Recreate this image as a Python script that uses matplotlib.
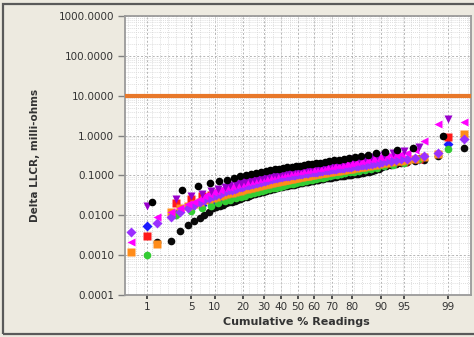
"""Probability plot of Delta LLCR readings (log y) against cumulative % readings."""
from statistics import NormalDist

import numpy as np
import matplotlib
matplotlib.use("Agg")
import matplotlib.pyplot as plt
from matplotlib.patches import Rectangle
from matplotlib.ticker import FixedLocator, FuncFormatter, NullFormatter

# ---------------------------------------------------------------- data
# Sorted Delta LLCR readings (milli-ohms) per group.
# A reading of 0 cannot be shown on the log axis.
black_upper = [
    0.021, 0.042, 0.053, 0.063, 0.071, 0.079, 0.087, 0.094, 0.102, 0.110,
    0.116, 0.123, 0.129, 0.135, 0.141, 0.147, 0.153, 0.159, 0.165, 0.171,
    0.177, 0.183, 0.189, 0.196, 0.203, 0.211, 0.220, 0.229, 0.239, 0.250,
    0.263, 0.277, 0.293, 0.310, 0.330, 0.355, 0.385, 0.430, 0.500, 0.950,
]
black_lower = [
    0.0, 0.0021, 0.0022, 0.0040, 0.0056, 0.0071, 0.0087, 0.0102, 0.0118, 0.0150,
    0.0162, 0.0174, 0.0186, 0.0198, 0.0210, 0.0221, 0.0233, 0.0245, 0.0257, 0.0270,
    0.0283, 0.0296, 0.0309, 0.0323, 0.0335, 0.0347, 0.0358, 0.0370, 0.0382, 0.0394,
    0.0406, 0.0418, 0.0430, 0.0442, 0.0454, 0.0466, 0.0478, 0.0490, 0.0502, 0.0510,
    0.0520, 0.0530, 0.0540, 0.0550, 0.0560, 0.0570, 0.0580, 0.0592, 0.0604, 0.0616,
    0.0628, 0.0640, 0.0652, 0.0665, 0.0678, 0.0691, 0.0704, 0.0717, 0.0730, 0.0744,
    0.0758, 0.0772, 0.0786, 0.0800, 0.0814, 0.0828, 0.0842, 0.0856, 0.0870, 0.0885,
    0.0900, 0.0915, 0.0930, 0.0946, 0.0962, 0.0978, 0.0995, 0.1012, 0.103, 0.105,
    0.107, 0.109, 0.111, 0.114, 0.117, 0.120, 0.123, 0.127, 0.140, 0.145,
    0.160, 0.170, 0.180, 0.190, 0.200, 0.215, 0.230, 0.250, 0.300, 0.500,
]
magenta = [
    0.0021, 0.0090, 0.0120, 0.0150, 0.019, 0.022, 0.026, 0.030, 0.034, 0.038,
    0.041, 0.044, 0.047, 0.050, 0.052, 0.055, 0.057, 0.060, 0.062, 0.065,
    0.067, 0.069, 0.0715, 0.0731, 0.0753, 0.0776, 0.0797, 0.0819, 0.0841, 0.0865,
    0.0887, 0.0910, 0.0933, 0.0959, 0.0982, 0.1007, 0.1033, 0.1057, 0.1084, 0.1096,
    0.1114, 0.1132, 0.1151, 0.1170, 0.1189, 0.1208, 0.1227, 0.1247, 0.1268, 0.1288,
    0.1309, 0.1327, 0.1349, 0.1368, 0.1387, 0.1406, 0.1429, 0.1449, 0.1469, 0.1489,
    0.1514, 0.1535, 0.1556, 0.1578, 0.1603, 0.1626, 0.1652, 0.1675, 0.1702, 0.1730,
    0.1758, 0.1786, 0.1816, 0.1845, 0.1875, 0.1910, 0.1941, 0.1977, 0.2023, 0.2075,
    0.2128, 0.2183, 0.2244, 0.2312, 0.2377, 0.2455, 0.2535, 0.2630, 0.2723, 0.2831,
    0.2938, 0.3055, 0.3184, 0.3327, 0.3499, 0.3758, 0.4266, 0.750, 2.000, 2.200,
]
violet = [
    0.017, 0.025, 0.030, 0.035, 0.041, 0.046, 0.051, 0.056, 0.061, 0.066,
    0.071, 0.076, 0.081, 0.086, 0.091, 0.096, 0.101, 0.106, 0.111, 0.116,
    0.121, 0.126, 0.131, 0.136, 0.141, 0.146, 0.151, 0.156, 0.161, 0.166,
    0.171, 0.177, 0.183, 0.190, 0.197, 0.204, 0.212, 0.221, 0.230, 0.240,
    0.251, 0.263, 0.277, 0.293, 0.312, 0.335, 0.365, 0.410, 0.520, 2.600,
]
purple = [
    0.0037, 0.0065, 0.0090, 0.0120, 0.0150, 0.0180, 0.0210, 0.0240, 0.0270, 0.0300,
    0.0325, 0.0350, 0.0375, 0.0400, 0.0420, 0.0440, 0.0460, 0.0480, 0.0500, 0.0520,
    0.0540, 0.0560, 0.0580, 0.0600, 0.0620, 0.0640, 0.0660, 0.0680, 0.0700, 0.0720,
    0.0740, 0.0760, 0.0780, 0.0800, 0.0820, 0.0840, 0.0860, 0.0880, 0.0900, 0.0915,
    0.0930, 0.0945, 0.0960, 0.0975, 0.0990, 0.1005, 0.1020, 0.1035, 0.1050, 0.1065,
    0.1080, 0.1095, 0.1110, 0.1125, 0.1140, 0.1155, 0.1170, 0.1185, 0.1200, 0.1215,
    0.1230, 0.1250, 0.1270, 0.1290, 0.1310, 0.1330, 0.1350, 0.1370, 0.1390, 0.1410,
    0.1430, 0.1450, 0.1475, 0.1500, 0.1525, 0.1550, 0.1575, 0.1600, 0.1630, 0.1660,
    0.1690, 0.1720, 0.1760, 0.1800, 0.1840, 0.1880, 0.1930, 0.1980, 0.2040, 0.2100,
    0.2170, 0.2240, 0.2320, 0.2410, 0.2510, 0.2630, 0.2800, 0.3050, 0.3600, 0.8000,
]
orange = [
    0.0012, 0.0019, 0.0120, 0.0150, 0.0175, 0.0195, 0.0215, 0.0235, 0.0255, 0.0275,
    0.0295, 0.0310, 0.0325, 0.0340, 0.0355, 0.0370, 0.0385, 0.0400, 0.0415, 0.0430,
    0.0445, 0.0460, 0.0475, 0.0490, 0.0505, 0.0520, 0.0535, 0.0550, 0.0565, 0.0580,
    0.0595, 0.0610, 0.0625, 0.0640, 0.0655, 0.0670, 0.0685, 0.0700, 0.0715, 0.0730,
    0.0745, 0.0760, 0.0775, 0.0790, 0.0805, 0.0820, 0.0835, 0.0850, 0.0865, 0.0880,
    0.0895, 0.0910, 0.0925, 0.0940, 0.0955, 0.0970, 0.0985, 0.1000, 0.1020, 0.1040,
    0.1060, 0.1080, 0.1100, 0.1120, 0.1140, 0.1160, 0.1180, 0.1200, 0.1220, 0.1240,
    0.1260, 0.1280, 0.1300, 0.1325, 0.1350, 0.1375, 0.1400, 0.1430, 0.1460, 0.1490,
    0.1520, 0.1550, 0.1590, 0.1630, 0.1670, 0.1710, 0.1760, 0.1810, 0.1870, 0.1930,
    0.2000, 0.2080, 0.2160, 0.2250, 0.2350, 0.2470, 0.2650, 0.2900, 0.3500, 1.1000,
]
red = [
    0.0030, 0.0200, 0.0260, 0.0300, 0.0330, 0.0360, 0.0385, 0.0410, 0.0435, 0.0460,
    0.0485, 0.0510, 0.0535, 0.0560, 0.0585, 0.0610, 0.0635, 0.0660, 0.0685, 0.0710,
    0.0740, 0.0770, 0.0800, 0.0830, 0.0860, 0.0890, 0.0920, 0.0950, 0.0980, 0.1010,
    0.1045, 0.1080, 0.1115, 0.1150, 0.1190, 0.1230, 0.1270, 0.1320, 0.1370, 0.1420,
    0.1480, 0.1540, 0.1610, 0.1690, 0.1780, 0.1890, 0.2020, 0.2200, 0.2550, 0.9000,
]
blue = [
    0.0053, 0.0110, 0.0150, 0.0180, 0.0210, 0.0235, 0.0260, 0.0285, 0.0310, 0.0335,
    0.0360, 0.0385, 0.0410, 0.0435, 0.0460, 0.0485, 0.0510, 0.0535, 0.0560, 0.0585,
    0.0610, 0.0640, 0.0670, 0.0700, 0.0730, 0.0760, 0.0790, 0.0820, 0.0850, 0.0880,
    0.0910, 0.0945, 0.0980, 0.1015, 0.1050, 0.1090, 0.1130, 0.1170, 0.1220, 0.1270,
    0.1330, 0.1390, 0.1460, 0.1540, 0.1700, 0.1800, 0.2000, 0.2200, 0.2600, 0.6300,
]
green = [
    0.0010, 0.0100, 0.0125, 0.0150, 0.0175, 0.0200, 0.0222, 0.0245, 0.0268, 0.0290,
    0.0312, 0.0335, 0.0358, 0.0380, 0.0402, 0.0425, 0.0448, 0.0470, 0.0495, 0.0520,
    0.0545, 0.0570, 0.0595, 0.0620, 0.0645, 0.0670, 0.0700, 0.0730, 0.0760, 0.0790,
    0.0820, 0.0850, 0.0885, 0.0920, 0.0960, 0.1000, 0.1040, 0.1090, 0.1140, 0.1190,
    0.1250, 0.1310, 0.1380, 0.1460, 0.1560, 0.1680, 0.1850, 0.2100, 0.2600, 0.4500,
]

LIMIT = 10.0  # milli-ohm limit line
Y_TICKS = [0.0001, 0.001, 0.01, 0.1, 1.0, 10.0, 100.0, 1000.0]
X_TICKS = [1, 5, 10, 20, 30, 40, 50, 60, 70, 80, 90, 95, 99]

# (values, colour, marker), drawn in this order
SERIES = [
    (black_lower, "#0a0a0a", "o"),
    (blue, "#1a1aff", "D"),
    (red, "#ff1a1a", "s"),
    (green, "#33cc33", "o"),
    (orange, "#ff8c1a", "s"),
    (purple, "#9b30ff", "D"),
    (magenta, "#ff00ff", "<"),
    (violet, "#9900cc", "v"),
    (black_upper, "#000000", "o"),
]

# ---------------------------------------------------------------- scale
_ND = NormalDist()
_ppf = np.vectorize(_ND.inv_cdf, otypes=[float])
_cdf = np.vectorize(_ND.cdf, otypes=[float])


def prob_forward(p):
    q = np.clip(np.asarray(p, dtype=float) / 100.0, 1e-9, 1 - 1e-9)
    return _ppf(q)


def prob_inverse(z):
    return _cdf(np.asarray(z, dtype=float)) * 100.0


def plotting_positions(n):
    """Hazen positions, in percent."""
    return (np.arange(n) + 0.5) / n * 100.0


# ---------------------------------------------------------------- figure
W, H = 474, 337
fig = plt.figure(figsize=(W / 100, H / 100), dpi=100)
fig.patch.set_facecolor("#edeae0")
fig.patches.append(Rectangle((3 / W, 3 / H), 1.0, (H - 7) / H, transform=fig.transFigure,
                             fill=False, edgecolor="#5a5a5a", linewidth=1.6))

ax = fig.add_axes([125 / W, 1 - 295 / H, (471 - 125) / W, (295 - 16) / H])
ax.set_facecolor("white")
ax.set_xscale("function", functions=(prob_forward, prob_inverse))
ax.set_yscale("log", nonpositive="mask")
ax.set_xlim(0.384, 99.63)
ax.set_ylim(1e-4, 1e3)

for vals, color, marker in SERIES:
    ax.plot(plotting_positions(len(vals)), vals, linestyle="none", marker=marker,
            markersize=5.5, markerfacecolor=color, markeredgecolor="none", zorder=3)

ax.axhline(LIMIT, color="#e8782a", linewidth=3, zorder=4)

# ticks
ax.xaxis.set_major_locator(FixedLocator(X_TICKS))
ax.xaxis.set_major_formatter(FuncFormatter(lambda v, _: f"{v:g}"))
ax.xaxis.set_minor_locator(FixedLocator(prob_inverse(np.arange(-2.625, 2.7, 0.125))))
ax.xaxis.set_minor_formatter(NullFormatter())
ax.yaxis.set_major_locator(FixedLocator(Y_TICKS))
ax.yaxis.set_major_formatter(FuncFormatter(lambda v, _: f"{v:.4f}"))
ax.yaxis.set_minor_locator(FixedLocator(
    [m * 10.0 ** e for e in range(-4, 3) for m in range(2, 10)]))
ax.yaxis.set_minor_formatter(NullFormatter())

ax.tick_params(axis="y", which="major", direction="out", length=5, width=1,
               color="#808080", labelsize=7.5, labelcolor="#333333", pad=3)
ax.tick_params(axis="x", which="major", direction="out", length=3, width=1.3,
               color="#404040", labelsize=7.5, labelcolor="#333333", pad=2)
ax.tick_params(which="minor", length=0)

ax.grid(which="minor", color="#d4d4d4", linestyle=(0, (1, 1.5)), linewidth=0.6)
ax.grid(which="major", color="#b4b4b4", linestyle=(0, (2, 2)), linewidth=0.7)
ax.set_axisbelow(True)

for sp in ax.spines.values():
    sp.set_color("#9a9a9a")
    sp.set_linewidth(1.3)

fig.text(35 / W, 1 - 155 / H, "Delta LLCR, milli-ohms", rotation=90, ha="center",
         va="center", fontsize=7.5, fontweight="bold", color="#333333")
fig.text(296 / W, 1 - 322 / H, "Cumulative % Readings", ha="center", va="center",
         fontsize=8, fontweight="bold", color="#333333")

fig.savefig("out.png", dpi=100, facecolor=fig.get_facecolor())
